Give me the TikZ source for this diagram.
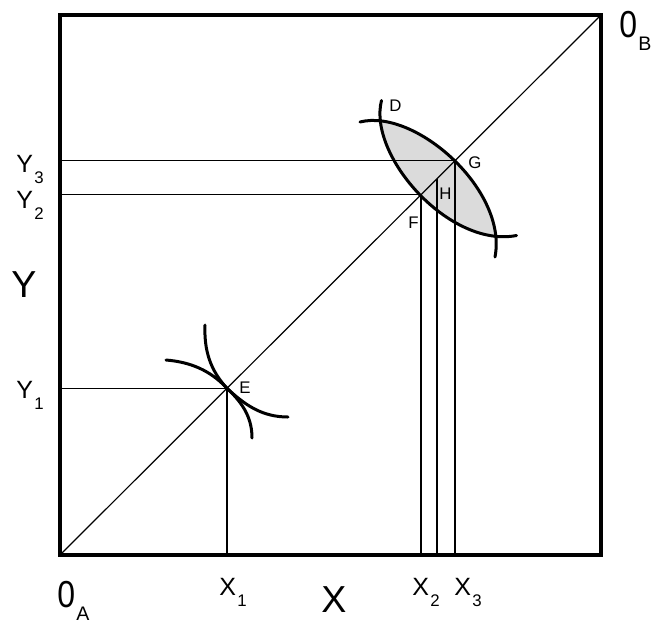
\documentclass[tikz,border=0pt]{standalone}
\usepackage{fontspec}
\setmainfont{Liberation Sans}
\newcommand{\lsub}[1]{\hspace{0.6pt}\raisebox{-5.9pt}{\fontsize{8.4}{9}\selectfont #1}}
\newcommand{\bsub}[1]{\hspace{0.6pt}\raisebox{-6.5pt}{\fontsize{9.8}{10}\selectfont #1}}
\newcommand{\nzero}{\scalebox{0.85}[1]{0}}
\begin{document}
\begin{tikzpicture}[x=0.5pt,y=-0.5pt,
  frame/.style={line width=1.6pt, line join=miter},
  thin/.style={line width=0.6pt},
  icurve/.style={line width=1.5pt, line cap=round},
  lens/.style={fill=black!14},
  big/.style={font=\fontsize{18.8}{20}\selectfont, anchor=base west, inner sep=0pt},
  mid/.style={font=\fontsize{12.5}{14}\selectfont, anchor=base west, inner sep=0pt},
  ptlab/.style={font=\fontsize{8.4}{10}\selectfont, anchor=base west, inner sep=0pt}]
\useasboundingbox (0,0) rectangle (654,623);
% corners
\coordinate (OA) at (60,555);
\coordinate (OB) at (601,15);
\coordinate (TL) at (60,15);
\coordinate (BR) at (601,555);
% points on the diagonal
\coordinate (E) at (227,388.3);
\coordinate (F) at (421,194.7);
\coordinate (H) at (437,178.7);
\coordinate (G) at (455,160.7);
% lens fill
\begin{scope}
  \clip (360,122) .. controls (415,108) and (508,190) .. (495,257) -- (300,257) -- (300,122) -- cycle;
  \fill[lens] (381.5,100.5) .. controls (367.5,155.5) and (449.5,248.5) .. (516.5,235.5) -- (560,235.5) -- (560,60) -- (381.5,60) -- cycle;
\end{scope}
% diagonal and guide lines
\draw[thin] (OA) -- (OB);
\draw[thin] (TL |- E) -- (E) -- (E |- OA);
\draw[thin] (TL |- F) -- (F) -- (F |- OA);
\draw[thin] (TL |- G) -- (G) -- (G |- OA);
\draw[thin] (H) -- (H |- OA);
% indifference curves at E
\draw[icurve] (205,325) .. controls (204,350) and (210,370) .. (E) .. controls (245,405) and (262,417) .. (288,417);
\draw[icurve] (166,360) .. controls (190,362) and (210,370) .. (E) .. controls (245,405) and (252,420) .. (252,438);
% indifference curves through D
\draw[icurve] (360,122) .. controls (415,108) and (508,190) .. (495,257);
\draw[icurve] (381.5,100.5) .. controls (367.5,155.5) and (449.5,248.5) .. (516.5,235.5);
% frame
\draw[frame] (OA) rectangle (OB);
% labels
\node[big] (lOB) at (619,37) {\nzero\bsub{B}};
\node[big] (lOA) at (57,607) {\nzero\bsub{A}};
\node[big] (lX) at (321,612) {X};
\node[big] (lY) at (11,297) {Y};
\node[mid] (lX1) at (219,595) {X\lsub{1}};
\node[mid] (lX2) at (412,595) {X\lsub{2}};
\node[mid] (lX3) at (454,595) {X\lsub{3}};
\node[mid] (lY3) at (16,172) {Y\lsub{3}};
\node[mid] (lY2) at (16,208) {Y\lsub{2}};
\node[mid] (lY1) at (16,398) {Y\lsub{1}};
\node[ptlab] (lD) at (389,111.7) {D};
\node[ptlab] (lG) at (468,168) {G};
\node[ptlab] (lH) at (439,199) {H};
\node[ptlab] (lF) at (408,228) {F};
\node[ptlab] (lE) at (239,393) {E};
\end{tikzpicture}
\end{document}
